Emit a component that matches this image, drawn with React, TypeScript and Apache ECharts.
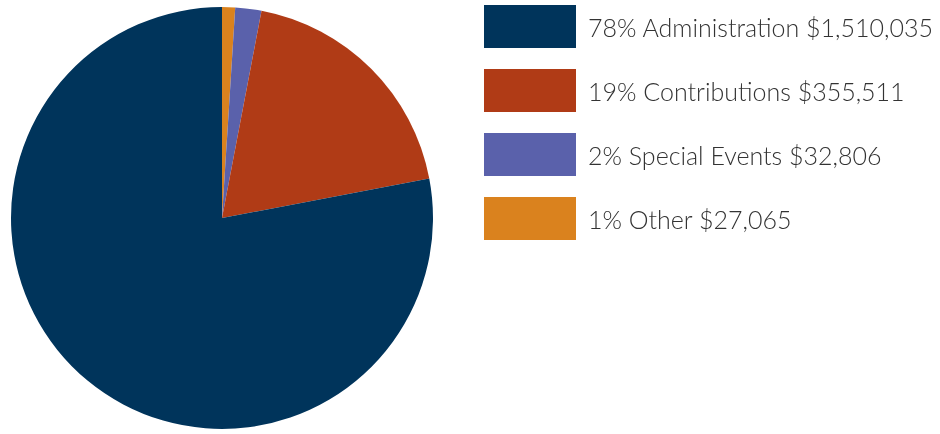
import React, { useEffect, useRef } from "react";
import * as echarts from "echarts";

// Categories in clockwise order from 12 o'clock (as drawn)
const categories = ["Other", "Special Events", "Contributions", "Administration"];
// Slice shares (percent), as shown in the legend
const sliceShares = [1, 2, 19, 78];
// Legend texts
const percents = ["1%", "2%", "19%", "78%"];
const amounts = ["$27,065", "$32,806", "$355,511", "$1,510,035"];
const colors = ["#DA821E", "#5A61AB", "#B03B16", "#00345B"];
const legendOrder = ["Administration", "Contributions", "Special Events", "Other"];

export default function App() {
  const ref = useRef<HTMLDivElement>(null);
  useEffect(() => {
    if (!ref.current) return;
    const chart = echarts.init(ref.current, null, { renderer: "svg" });
    const labelOf: Record<string, string> = {};
    categories.forEach((c, i) => {
      labelOf[c] = `${percents[i]} ${c} ${amounts[i]}`;
    });
    chart.setOption({
      animation: false,
      legend: {
        orient: "vertical",
        left: 484,
        top: 5,
        padding: 0,
        itemWidth: 92,
        itemHeight: 43,
        itemGap: 21,
        icon: "rect",
        selectedMode: false,
        data: legendOrder,
        formatter: (name: string) => labelOf[name],
        textStyle: {
          fontFamily: "Lato",
          fontWeight: 300,
          fontSize: 25,
          color: "#333333",
          padding: [7, 0, 0, 7],
        },
      },
      series: [
        {
          type: "pie",
          center: [222, 218],
          radius: [0, 211],
          startAngle: 90,
          clockwise: true,
          label: { show: false },
          labelLine: { show: false },
          emphasis: { disabled: true },
          itemStyle: { borderWidth: 0 },
          data: categories.map((c, i) => ({
            name: c,
            value: sliceShares[i],
            itemStyle: { color: colors[i] },
          })),
        },
      ],
    });
    return () => chart.dispose();
  }, []);
  return (
    <div
      ref={ref}
      style={{ position: "fixed", left: 0, top: 0, width: 940, height: 434 }}
    />
  );
}
